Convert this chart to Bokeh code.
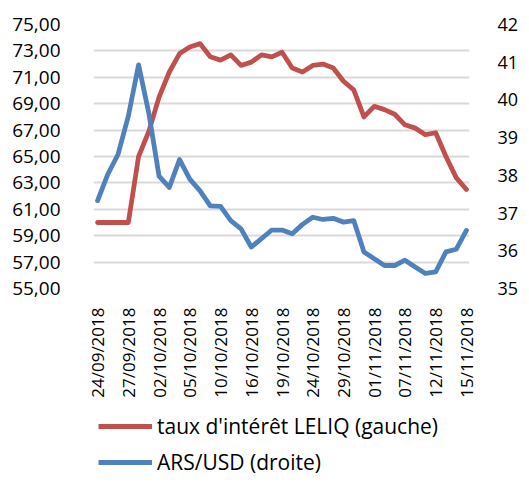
import math
from bokeh.plotting import figure
from bokeh.layouts import column
from bokeh.models import (Range1d, LinearAxis, FixedTicker, Legend, LegendItem)
from bokeh.embed import file_html
from bokeh.resources import INLINE

dates = ["24/09/2018", "25/09/2018", "26/09/2018", "27/09/2018", "28/09/2018",
         "01/10/2018", "02/10/2018", "03/10/2018", "04/10/2018", "05/10/2018",
         "08/10/2018", "09/10/2018", "10/10/2018", "11/10/2018", "12/10/2018",
         "16/10/2018", "17/10/2018", "18/10/2018", "19/10/2018", "22/10/2018",
         "23/10/2018", "24/10/2018", "25/10/2018", "26/10/2018", "29/10/2018",
         "30/10/2018", "31/10/2018", "01/11/2018", "02/11/2018", "05/11/2018",
         "07/11/2018", "08/11/2018", "09/11/2018", "12/11/2018", "13/11/2018",
         "14/11/2018", "15/11/2018"]

leliq = [60.0, 60.0, 60.0, 60.0, 65.0, 66.9, 69.5, 71.4, 72.8, 73.3,
         73.55, 72.55, 72.3, 72.7, 71.9, 72.15, 72.7, 72.55, 72.9, 71.7,
         71.4, 71.9, 72.0, 71.7, 70.7, 70.05, 68.0, 68.8, 68.55, 68.2,
         67.4, 67.15, 66.65, 66.8, 65.0, 63.4, 62.5]

arsusd = [37.33, 38.03, 38.56, 39.57, 40.93, 39.65, 37.98, 37.68, 38.42, 37.9,
          37.59, 37.19, 37.18, 36.8, 36.58, 36.1, 36.32, 36.55, 36.55, 36.45,
          36.7, 36.89, 36.83, 36.86, 36.76, 36.8, 35.97, 35.79, 35.61, 35.61,
          35.75, 35.57, 35.4, 35.44, 35.97, 36.04, 36.54]

left_ticks = [55, 57, 59, 61, 63, 65, 67, 69, 71, 73, 75]
right_ticks = [35, 36, 37, 38, 39, 40, 41, 42]
label_every = 3

series_names = ["taux d'intérêt LELIQ (gauche)", "ARS/USD (droite)"]
RED = "#C0504D"
BLUE = "#4F81BD"
FONT = "Open Sans"
LW = 4.8

xs = list(range(len(dates)))

p = figure(width=521, height=400, output_backend="svg", toolbar_location=None,
           x_range=Range1d(-0.4, len(dates) - 1 + 0.3),
           y_range=Range1d(55, 75),
           min_border_left=93, min_border_right=44, min_border_top=24,
           min_border_bottom=110)
p.extra_y_ranges = {"right": Range1d(35, 42)}
p.outline_line_color = None
p.background_fill_color = "white"
p.border_fill_color = "white"

r1 = p.line(xs, leliq, line_color=RED, line_width=LW, line_join="round", line_cap="round")
r2 = p.line(xs, arsusd, line_color=BLUE, line_width=LW, line_join="round",
            line_cap="round", y_range_name="right")

# x axis
xa = p.xaxis[0]
xa.ticker = FixedTicker(ticks=xs[::label_every])
xa.major_label_overrides = {i: dates[i] for i in xs[::label_every]}
xa.major_label_orientation = math.pi / 2
xa.major_label_text_font = FONT
xa.major_label_text_font_size = "17px"
xa.major_label_text_color = "#000000"
xa.major_label_standoff = 13
xa.axis_line_color = None
xa.major_tick_line_color = None
xa.minor_tick_line_color = None

# left axis
ya = p.yaxis[0]
ya.ticker = FixedTicker(ticks=left_ticks)
ya.major_label_overrides = {t: f"{t:.2f}".replace(".", ",") for t in left_ticks}
ya.major_label_text_font = FONT
ya.major_label_text_font_size = "19px"
ya.major_label_text_color = "#000000"
ya.major_label_standoff = 27
ya.axis_line_color = None
ya.major_tick_line_color = None
ya.minor_tick_line_color = None

# right axis
ra = LinearAxis(y_range_name="right", ticker=FixedTicker(ticks=right_ticks))
ra.major_label_text_font = FONT
ra.major_label_text_font_size = "18px"
ra.major_label_text_color = "#000000"
ra.major_label_standoff = 22
ra.axis_line_color = None
ra.major_tick_line_color = None
ra.minor_tick_line_color = None
p.add_layout(ra, "right")

p.xgrid.grid_line_color = None
p.ygrid.ticker = FixedTicker(ticks=left_ticks)
p.ygrid.grid_line_color = "#D9D9D9"
p.ygrid.grid_line_width = 2

# legend panel (separate figure below the chart); its sample lines sit outside its ranges
lg = figure(width=521, height=77, output_backend="svg", toolbar_location=None,
            x_range=Range1d(0, 1), y_range=Range1d(0, 1),
            min_border=0, min_border_left=0, min_border_right=0,
            min_border_top=0, min_border_bottom=0)
lg.axis.visible = False
lg.grid.visible = False
lg.outline_line_color = None
lg.border_fill_color = "white"
lg.background_fill_color = "white"
k1 = lg.line(xs, leliq, line_color=RED, line_width=LW)
k2 = lg.line(xs, arsusd, line_color=BLUE, line_width=LW)

legend = Legend(items=[LegendItem(label=series_names[0], renderers=[k1]),
                       LegendItem(label=series_names[1], renderers=[k2])],
                location=(5, 1), orientation="vertical",
                glyph_width=54, glyph_height=20, label_height=20,
                label_standoff=5, spacing=8, padding=0, margin=0,
                label_text_font=FONT, label_text_font_size="21px",
                label_text_color="#000000",
                border_line_color=None, background_fill_alpha=0)
lg.add_layout(legend, "center")

layout = column(p, lg, spacing=0)
open("out.html", "w").write(file_html(layout, INLINE))
